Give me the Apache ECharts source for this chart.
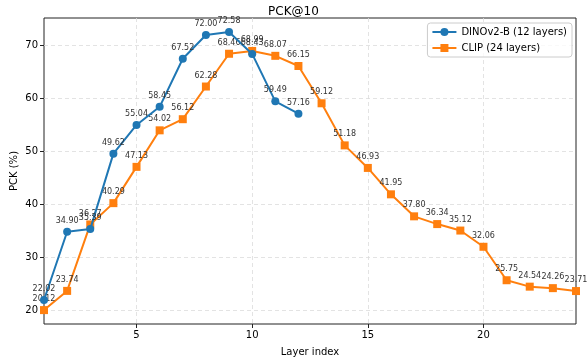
<!DOCTYPE html>
<html><head><meta charset="utf-8">
<script src="https://cdn.jsdelivr.net/npm/echarts@6/dist/echarts.min.js"></script>
<style>html,body{margin:0;padding:0;background:#fff}#c{width:587px;height:358px}</style>
</head><body><div id="c"></div>
<script>
const layers = [1,2,3,4,5,6,7,8,9,10,11,12,13,14,15,16,17,18,19,20,21,22,23,24];
const dinoValues = [22.02,34.90,35.39,49.62,55.04,58.45,67.52,72.00,72.58,68.43,59.49,57.16];
const clipValues = [20.12,23.74,36.27,40.29,47.13,54.02,56.12,62.28,68.46,68.99,68.07,66.15,59.12,51.18,46.93,41.95,37.80,36.34,35.12,32.06,25.75,24.54,24.26,23.71];
const xTicks = [5,10,15,20];
const yTicks = [20,30,40,50,60,70];
const seriesNames = ['DINOv2-B (12 layers)','CLIP (24 layers)'];

const font = 'DejaVu Sans';
const chart = echarts.init(document.getElementById('c'), null, {renderer:'canvas'});
const lbl = {show:true, position:'top', distance:3, fontSize:8, color:'#333', fontFamily:font,
  formatter: p => p.value[1].toFixed(2)};
chart.setOption({
  animation:false,
  title:{text:'PCK@10', left:'center', top:1, textStyle:{fontFamily:font, fontSize:12, fontWeight:'normal', color:'#000'}},
  grid:{left:44, right:11, top:18, bottom:34, outerBoundsMode:'none', containLabel:false,
    show:true, borderColor:'#222', borderWidth:1, backgroundColor:'transparent'},
  legend:{right:15, top:23, orient:'vertical', itemGap:6, itemWidth:24, itemHeight:10,
    backgroundColor:'rgba(255,255,255,0.8)', borderColor:'#ccc', borderWidth:1, borderRadius:3, padding:[4,5,4,4],
    textStyle:{fontFamily:font, fontSize:10, color:'#000'},
    data:seriesNames},
  xAxis:{type:'value', min:1, max:24, name:'Layer index', nameLocation:'middle', nameGap:23, nameMoveOverlap:false,
    nameTextStyle:{fontFamily:font, fontSize:10, color:'#000'},
    axisLine:{show:false}, axisTick:{show:true, length:4, customValues:xTicks, lineStyle:{color:'#222'}},
    axisLabel:{customValues:xTicks, fontFamily:font, fontSize:10, color:'#000', margin:6},
    splitLine:{show:true, lineStyle:{color:'#dcdcdc', type:[4,3], width:0.8}}},
  yAxis:{type:'value', min:17.497, max:75.203, name:'PCK (%)', nameLocation:'middle', nameGap:25, nameMoveOverlap:false,
    nameTextStyle:{fontFamily:font, fontSize:10, color:'#000'},
    axisLine:{show:false}, axisTick:{show:true, length:4, customValues:yTicks, lineStyle:{color:'#222'}},
    axisLabel:{customValues:yTicks, fontFamily:font, fontSize:10, color:'#000', margin:6},
    splitLine:{show:true, lineStyle:{color:'#dcdcdc', type:[4,3], width:0.8}}},
  series:[
    {name:seriesNames[0], type:'line', data:dinoValues.map((v,i)=>[layers[i],v]),
     symbol:'circle', symbolSize:8, color:'#1f77b4', lineStyle:{width:2}, label:lbl, z:3},
    {name:seriesNames[1], type:'line', data:clipValues.map((v,i)=>[layers[i],v]),
     symbol:'rect', symbolSize:8, color:'#ff7f0e', lineStyle:{width:2}, label:lbl, z:2}
  ]
});
</script></body></html>
